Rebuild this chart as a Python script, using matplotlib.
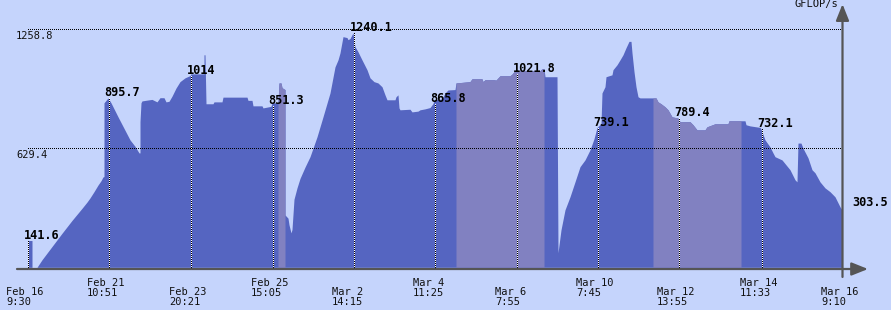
import numpy as np
import matplotlib
matplotlib.use("Agg")
import matplotlib.pyplot as plt

# sample index (one per screen column) and GFLOP/s
samples = [28, 28, 32, 32, 37, 42, 47, 52, 57, 62, 67, 72, 77, 82, 87, 90, 94, 98, 101, 103, 104,
           104, 108, 111, 118, 124, 130, 135, 139,
           140, 140, 141, 142, 148, 152, 157, 160, 164, 166, 169, 172, 176, 180, 185, 190, 191, 204,
           204, 205, 206, 213, 214, 222, 223, 247, 248, 252, 253, 262, 263, 271, 272, 278, 279, 281,
           282, 285, 285, 288, 289, 291, 292, 294, 297, 300, 305, 310, 317, 323, 330, 335, 338, 340,
           343, 347, 348, 350, 352, 353, 354, 355, 358, 362, 367, 370, 374, 378, 382, 385, 387, 395,
           396, 398, 399, 400, 410, 412, 418, 420, 425, 430, 433, 434, 442, 445, 448, 455, 456, 470,
           472, 482, 483, 485, 494, 496, 500, 510, 512, 515, 540, 542, 544, 545, 557, 558, 561, 565,
           570, 575, 580, 585, 590, 594, 597, 601, 602, 605, 606, 612, 613, 617, 620, 623, 626, 629,
           631, 632, 634, 636, 638, 640, 653, 656, 658, 661, 665, 668, 672, 678, 680, 690, 693, 697,
           705, 707, 715, 728, 729, 741, 745, 746, 750, 760, 761, 765, 770, 773, 775, 782, 790, 795,
           797, 798, 801, 803, 808, 812, 815, 820, 825, 830, 835, 840, 842]
gflops = [0, 141.6, 141.6, 0, 0, 40, 75, 110, 145, 180, 214, 248, 280, 312, 345, 367, 400, 435, 458, 478, 480,
          870, 895.7, 870, 796, 735, 674, 640, 605,
          605, 770, 870, 880, 885, 888, 875, 897, 897, 875, 878, 905, 948, 982, 1002, 1014, 1023, 1023,
          1124, 1124, 865, 865, 875, 875, 900, 900, 883, 883, 854, 854, 843, 851.3, 870, 870, 975, 975,
          950, 940, 277, 260, 225, 182, 200, 360, 420, 470, 530, 585, 690, 796, 922, 1060, 1097, 1134,
          1220, 1215, 1204, 1210, 1230, 1240.1, 1200, 1167, 1140, 1097, 1045, 1002, 982, 975, 955, 912, 886, 886,
          902, 912, 843, 833, 836, 822, 826, 833, 838, 845, 865.8, 886, 890, 922, 938, 940, 975, 982,
          997, 997, 982, 992, 992, 990, 1013, 1013, 1021.8, 1040, 1040, 1050, 1050, 1008, 1008, 77, 198, 304,
          373, 452, 532, 568, 621, 680, 739.1, 760, 922, 955, 1008, 1018, 1045, 1071, 1097, 1124, 1161, 1195,
          1195, 1134, 1035, 955, 902, 896, 896, 896, 875, 865, 849, 833, 796, 789.4, 770, 770, 754, 727,
          727, 743, 759, 759, 775, 775, 775, 754, 748, 740, 732.1, 674, 637, 605, 585, 568, 516, 463,
          452, 657, 657, 630, 579, 516, 500, 452, 420, 400, 373, 320, 303.5]

# lighter shaded stretches (start, end sample)
band_start = [278, 456, 653]
band_end = [285, 544, 741]

tick_pos = [27, 108, 190, 272, 353, 434, 516, 597, 678, 761, 842]
tick_date = ["Feb 16", "Feb 21", "Feb 23", "Feb 25", "Mar 2", "Mar 4", "Mar 6", "Mar 10", "Mar 12", "Mar 14", "Mar 16"]
tick_time = ["9:30", "10:51", "20:21", "15:05", "14:15", "11:25", "7:55", "7:45", "13:55", "11:33", "9:10"]
tick_vals = [141.6, 895.7, 1014, 851.3, 1240.1, 865.8, 1021.8, 739.1, 789.4, 732.1, 303.5]

grid_vals = [1258.8, 629.4]

bg = "#c5d4fc"
main = "#5565c1"
light = "#8181c1"
mono = "DejaVu Sans Mono"

s = np.array(samples)
g = np.array(gflops)

fig = plt.figure(figsize=(8.91, 3.10), dpi=100, facecolor=bg)
ax = fig.add_axes([0, 0, 1, 1])
ax.set_facecolor(bg)
ax.set_xlim(0, 891)
ax.set_ylim(-225.8, 1413.8)
ax.axis("off")
ypx = (1413.8 + 225.8) / 310  # data units per pixel

ax.fill_between(s, g, 0, color=main, lw=0, zorder=2)
for a, b in zip(band_start, band_end):
    ax.fill_between(s, g, 0, where=(s >= a) & (s <= b), color=light, lw=0, zorder=3)


def dots(xs, ys, zorder):
    ax.plot(xs, ys, ls="none", marker="s", ms=0.72, mew=0, color="black",
            antialiased=False, zorder=zorder)


# dotted guide lines
for v in grid_vals:
    xs = np.arange(27.5, 842, 2)
    dots(xs, np.full(len(xs), v), 4)
    ax.annotate(f"{v}", xy=(27, v), xytext=(-8, -1.2), textcoords="offset points",
                ha="left", va="top", fontsize=7.5, family=mono, color="#111111")

for i in range(len(tick_pos)):
    x = tick_pos[i] + 0.5
    v = tick_vals[i]
    if i < len(tick_pos) - 1:
        ax.plot([x, x], [0, v], color="white", lw=0.72, antialiased=False, zorder=4)
        ys = np.arange(0, v, 2 * ypx)
        dots(np.full(len(ys), x), ys, 5)
        ax.annotate(f"{v:g}", xy=(x, v), xytext=(-2.8, 1.4), textcoords="offset points",
                    ha="left", va="baseline", fontsize=8.6, family=mono, weight="bold", zorder=6)
    else:
        ax.annotate(f"{v:g}", xy=(x, v), xytext=(7.0, 2.6), textcoords="offset points",
                    ha="left", va="baseline", fontsize=8.6, family=mono, weight="bold", zorder=6)
    # two-row date labels
    dy = -7.6 if i % 2 == 1 else -14.0
    ax.annotate(tick_date[i], xy=(x, 0), xytext=(-15.4, dy), textcoords="offset points",
                ha="left", va="top", fontsize=7.5, family=mono, color="#111111")
    ax.annotate(tick_time[i], xy=(x, 0), xytext=(-15.4, dy - 7.6), textcoords="offset points",
                ha="left", va="top", fontsize=7.5, family=mono, color="#111111")

# axes with arrows
ax.annotate("", xy=(868, -9), xytext=(17, -9),
            arrowprops=dict(arrowstyle="-|>,head_length=0.55,head_width=0.22", mutation_scale=18,
                            color="#555555", lw=1.6, shrinkA=0, shrinkB=0), zorder=7)
ax.annotate("", xy=(842.5, 1392), xytext=(842.5, -51),
            arrowprops=dict(arrowstyle="-|>,head_length=0.55,head_width=0.22", mutation_scale=18,
                            color="#555555", lw=1.6, shrinkA=0, shrinkB=0), zorder=7)
ax.annotate("GFLOP/s", xy=(838, 303), xycoords="figure pixels", ha="right", va="baseline",
            fontsize=7.5, family=mono, color="#111111")

fig.savefig("out.png", dpi=100, facecolor=bg)
